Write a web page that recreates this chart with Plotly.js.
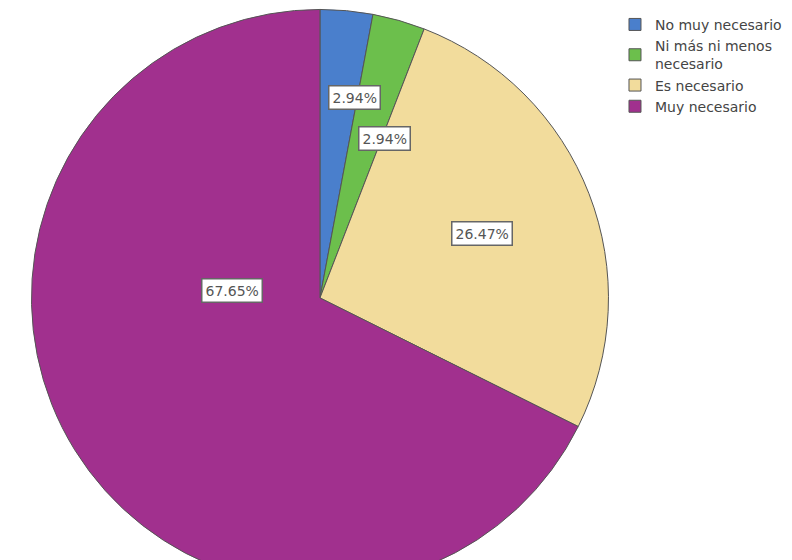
<!DOCTYPE html>
<html>
<head>
<meta charset="utf-8">
<script src="https://cdn.plot.ly/plotly-3.0.1.min.js"></script>
<style>
  html, body { margin: 0; padding: 0; overflow: hidden; background: #fff; }
  #chart { width: 792px; height: 590px; }
</style>
</head>
<body>
<div id="chart"></div>
<script>
// Response categories (legend order) and respondent counts
const categories = ["No muy necesario", "Ni más ni menos<br>necesario", "Es necesario", "Muy necesario"];
const counts = [1, 1, 9, 23];
const sliceColors = ["#4a7fcc", "#6cbf4c", "#f2dc9c", "#a1308e"];

// Where each percentage box sits (paper coordinates)
const labelX = [0.448, 0.486, 0.609, 0.254];
const labelY = [0.856, 0.786, 0.605, 0.508];

const total = counts.reduce((a, b) => a + b, 0);
const pctText = counts.map(c => (100 * c / total).toFixed(2) + "%");

const trace = {
  type: "pie",
  labels: categories,
  values: counts,
  sort: false,
  direction: "clockwise",
  rotation: 0,
  textinfo: "none",
  hoverinfo: "label+percent",
  marker: { colors: sliceColors, line: { color: "#555", width: 1 } },
  domain: { x: [0.036, 0.772], y: [0.006, 0.984] }
};

const annotations = pctText.map((t, i) => ({
  x: labelX[i], y: labelY[i], xref: "paper", yref: "paper",
  text: t, showarrow: false,
  font: { family: "DejaVu Sans, sans-serif", size: 14, color: "#555" },
  bgcolor: "#ffffff", bordercolor: "#666", borderwidth: 1.5, borderpad: 3
}));

const layout = {
  width: 792, height: 590,
  margin: { l: 0, r: 0, t: 0, b: 0 },
  paper_bgcolor: "#ffffff",
  showlegend: true,
  legend: {
    x: 0.7765, y: 0.985, xanchor: "left", yanchor: "top",
    font: { family: "DejaVu Sans, sans-serif", size: 14, color: "#444" },
    bgcolor: "rgba(0,0,0,0)", tracegroupgap: 0, itemwidth: 30
  },
  annotations: annotations
};

Plotly.newPlot("chart", [trace], layout, { displayModeBar: false, staticPlot: true });
</script>
</body>
</html>
